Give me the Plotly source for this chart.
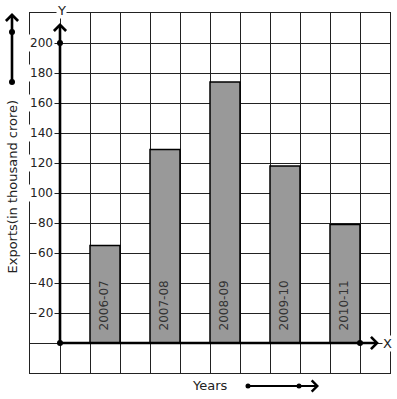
import plotly.graph_objects as go

years = ["2006-07", "2007-08", "2008-09", "2009-10", "2010-11"]
exports = [65, 129, 174, 118, 79]
y_ticks = [20, 40, 60, 80, 100, 120, 140, 160, 180, 200]

W, H = 397, 399
ML, MR, MT, MB = 30, 7, 13, 26
PW, PH = W - ML - MR, H - MT - MB


def px_x(px):
    return (px - ML) / PW


def px_y(py):
    return (H - MB - py) / PH


xpos = [2 * i + 1.5 for i in range(len(years))]
FONT = "DejaVu Sans"
TXT = "#222222"

fig = go.Figure()
fig.add_trace(go.Bar(
    x=xpos, y=exports, width=1,
    marker=dict(color="#999999", line=dict(color="#000000", width=1.5)),
    hoverinfo="skip", showlegend=False,
))

ann = []
# bar labels
for xv, lab in zip(xpos, years):
    ann.append(dict(x=xv - 0.05, y=6.7, xref="x", yref="y", text=lab, showarrow=False,
                    textangle=-90, xanchor="center", yanchor="bottom",
                    font=dict(family=FONT, size=12, color="#333333")))
# y tick labels
for t in y_ticks:
    ann.append(dict(x=-0.18, y=t, xref="x", yref="y", text=str(t), showarrow=False,
                    xanchor="right", yanchor="middle", bgcolor="white", borderpad=1,
                    font=dict(family=FONT, size=12, color=TXT)))

# axes arrows
ann.append(dict(x=0, y=213.3, xref="x", yref="y", ax=0, ay=0, axref="x", ayref="y",
                text="", showarrow=True, arrowhead=4, arrowsize=0.9, arrowwidth=2.6,
                arrowcolor="black"))
ann.append(dict(x=10.63, y=0, xref="x", yref="y", ax=0, ay=0, axref="x", ayref="y",
                text="", showarrow=True, arrowhead=4, arrowsize=0.9, arrowwidth=2.6,
                arrowcolor="black"))
# left arrow
ann.append(dict(x=px_x(12), y=px_y(13), xref="paper", yref="paper", ax=0, ay=69,
                text="", showarrow=True, arrowhead=4, arrowsize=0.9, arrowwidth=2.6,
                arrowcolor="black"))
# bottom arrow
ann.append(dict(x=px_x(319), y=px_y(386), xref="paper", yref="paper", ax=-71, ay=0,
                text="", showarrow=True, arrowhead=4, arrowsize=1.2, arrowwidth=1.8,
                arrowcolor="black"))

# axis letters and titles
ann.append(dict(x=px_x(61), y=px_y(10), xref="paper", yref="paper", text="Y",
                xanchor="center", yanchor="middle",
                showarrow=False, bgcolor="white", borderpad=0,
                font=dict(family=FONT, size=13, color=TXT)))
ann.append(dict(x=10.93, y=0, xref="x", yref="y", text="X",
                xanchor="center", yanchor="middle",
                showarrow=False, bgcolor="white", borderpad=0,
                font=dict(family=FONT, size=13, color=TXT)))
ann.append(dict(x=px_x(210), y=px_y(385.5), xref="paper", yref="paper", text="Years",
                xanchor="center", yanchor="middle",
                showarrow=False, font=dict(family=FONT, size=13, color=TXT)))
ann.append(dict(x=px_x(12), y=px_y(186.5), xref="paper", yref="paper",
                text="Exports(in thousand crore)", textangle=-90, showarrow=False,
                xanchor="center", yanchor="middle",
                font=dict(family=FONT, size=13, color=TXT)))

shapes = []


def dot(xv, yv, xref, yref, r=3):
    shapes.append(dict(type="circle", xref=xref, yref=yref, xsizemode="pixel",
                       ysizemode="pixel", xanchor=xv, yanchor=yv, x0=-r, x1=r,
                       y0=-r, y1=r, fillcolor="black", line=dict(width=0),
                       layer="above"))


dot(0, 0, "x", "y")
dot(0, 200, "x", "y")
dot(10, 0, "x", "y")
dot(px_x(12), px_y(82), "paper", "paper")
dot(px_x(12), px_y(32), "paper", "paper")
dot(px_x(248), px_y(386), "paper", "paper", r=2.5)
dot(px_x(299), px_y(386), "paper", "paper", r=2.5)

fig.update_layout(
    width=W, height=H,
    margin=dict(l=ML, r=MR, t=MT, b=MB, pad=0),
    plot_bgcolor="white", paper_bgcolor="white",
    annotations=ann, shapes=shapes, showlegend=False,
    xaxis=dict(range=[-1, 11], tick0=0, dtick=1, showgrid=True, gridcolor="#222222",
               gridwidth=1, zeroline=False, showticklabels=False, ticks="",
               showline=True, mirror=True, linecolor="#222222", linewidth=1,
               fixedrange=True),
    yaxis=dict(range=[-20, 220], tick0=0, dtick=20, showgrid=True, gridcolor="#222222",
               gridwidth=1, zeroline=False, showticklabels=False, ticks="",
               showline=True, mirror=True, linecolor="#222222", linewidth=1,
               fixedrange=True),
)

fig.write_html("out.html", config=dict(displayModeBar=False),
               post_script="document.body.style.margin='0px';"
                           "document.body.style.overflow='hidden';")
